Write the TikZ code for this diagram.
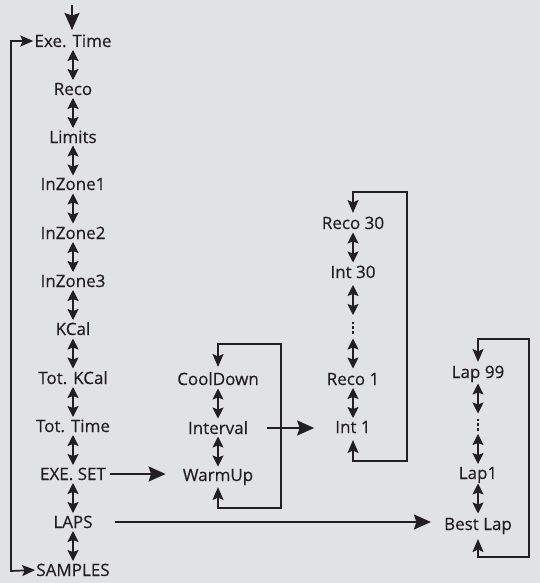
\documentclass[tikz,border=0pt]{standalone}
\usepackage{fontspec}
\setmainfont[FakeBold=0.35]{Open Sans}
\usetikzlibrary{arrows.meta,calc}
\definecolor{bg}{HTML}{E1E2E4}
\definecolor{ink}{HTML}{231F20}
\newcommand\dblarr[2]{\draw[dbl] ($(#1)!0.5!(#2)+(0,-15)$) -- ($(#1)!0.5!(#2)+(0,15)$);}
\begin{document}
\begin{tikzpicture}[x=1pt,y=-1pt,
  lbl/.style={font=\fontsize{17}{19}\selectfont, text=ink, inner xsep=1pt, inner ysep=0pt, text height=12pt, text depth=0pt},
  dbl/.style={{Stealth[length=11pt,width=11pt,inset=2pt]}-{Stealth[length=11pt,width=11pt,inset=2pt]}, line width=1.3pt, draw=ink},
  conn/.style={line width=1.7pt, draw=ink},
  bigtip/.style={-{Stealth[length=17pt,width=15pt,inset=2.5pt]}},
  twotips/.style={{Stealth[length=13pt,width=11pt,inset=2.5pt]}-{Stealth[length=13pt,width=11pt,inset=2.5pt]}}
]
\fill[bg] (0,0) rectangle (540,583);
\useasboundingbox (0,0) rectangle (540,583);

% left column
\node[lbl] (exe) at (73,41) {Exe. Time};
\node[lbl] (reco) at (73,89) {Reco};
\node[lbl] (lim) at (73,137) {Limits};
\node[lbl] (z1) at (73,184) {InZone1};
\node[lbl] (z2) at (73,233) {InZone2};
\node[lbl] (z3) at (73,281) {InZone3};
\node[lbl] (kcal) at (73,329) {KCal};
\node[lbl] (tkcal) at (73,378) {Tot. KCal};
\node[lbl] (ttime) at (73,426) {Tot. Time};
\node[lbl] (eset) at (73,474) {EXE. SET};
\node[lbl] (laps) at (73,522) {LAPS};
\node[lbl] (samp) at (73,570) {SAMPLES};

% middle column
\node[lbl] (cool) at (218,379) {CoolDown};
\node[lbl] (intv) at (218,428) {Interval};
\node[lbl] (warm) at (218,475) {WarmUp};

% reco/int column
\node[lbl] (r30) at (353,223) {Reco 30};
\node[lbl] (i30) at (353,272) {Int 30};
\coordinate (d1) at (353,328);
\node[lbl] (r1) at (353,379) {Reco 1};
\node[lbl] (i1) at (353,427) {Int 1};

% lap column
\node[lbl] (l99) at (478,372) {Lap 99};
\coordinate (d2) at (478,425);
\node[lbl] (l1) at (478,473) {Lap1};
\node[lbl] (best) at (478,524) {Best Lap};

% vertical dots
\draw[ink, line width=2.8pt, dash pattern=on 2.6pt off 2.2pt] ($(d1)+(0,-6.5)$) -- ($(d1)+(0,6.5)$);
\draw[ink, line width=2.8pt, dash pattern=on 2.6pt off 2.2pt] ($(d2)+(0,-6.5)$) -- ($(d2)+(0,6.5)$);

% double arrows
\dblarr{exe}{reco}
\dblarr{reco}{lim}
\dblarr{lim}{z1}
\dblarr{z1}{z2}
\dblarr{z2}{z3}
\dblarr{z3}{kcal}
\dblarr{kcal}{tkcal}
\dblarr{tkcal}{ttime}
\dblarr{ttime}{eset}
\dblarr{eset}{laps}
\dblarr{laps}{samp}
\dblarr{cool}{intv}
\dblarr{intv}{warm}
\dblarr{r30}{i30}
\dblarr{i30}{d1}
\dblarr{d1}{r1}
\dblarr{r1}{i1}
\dblarr{l99}{d2}
\dblarr{d2}{l1}
\dblarr{l1}{best}

% top entry arrow
\coordinate (top) at (72,5);
\draw[conn, bigtip] (top) -- ($(exe.center)+(-1,-11)$);

% left loop
\coordinate (lt) at (11,41);
\coordinate (lb) at (11,571);
\draw[conn, twotips] (exe.west) -- (lt) -- (lb) -- (samp.west);

% horizontal arrows
\draw[conn, bigtip, shorten <=3pt, shorten >=16pt] (eset.east) -- (warm.west |- eset);
\draw[conn, bigtip, shorten <=18pt, shorten >=20pt] (intv.east) -- (i1.west |- intv);
\draw[conn, bigtip, shorten <=21pt, shorten >=12pt] (laps.east) -- (best.west |- laps);

% loops
\coordinate (m1) at (218,344);
\coordinate (m2) at (281,344);
\coordinate (m3) at (281,508);
\coordinate (m4) at (218,508);
\draw[conn, twotips] ($(cool.center)+(0,-12)$) -- (m1) -- (m2) -- (m3) -- (m4) -- ($(warm.center)+(0,12)$);

\coordinate (n1) at (353,192);
\coordinate (n2) at (407,192);
\coordinate (n3) at (407,461);
\coordinate (n4) at (353,461);
\draw[conn, twotips] ($(r30.center)+(0,-10)$) -- (n1) -- (n2) -- (n3) -- (n4) -- ($(i1.center)+(0,13)$);

\coordinate (p1) at (478,339);
\coordinate (p2) at (529,339);
\coordinate (p3) at (529,557);
\coordinate (p4) at (478,557);
\draw[conn, twotips] ($(l99.center)+(0,-10)$) -- (p1) -- (p2) -- (p3) -- (p4) -- ($(best.center)+(0,15)$);
\end{tikzpicture}
\end{document}
